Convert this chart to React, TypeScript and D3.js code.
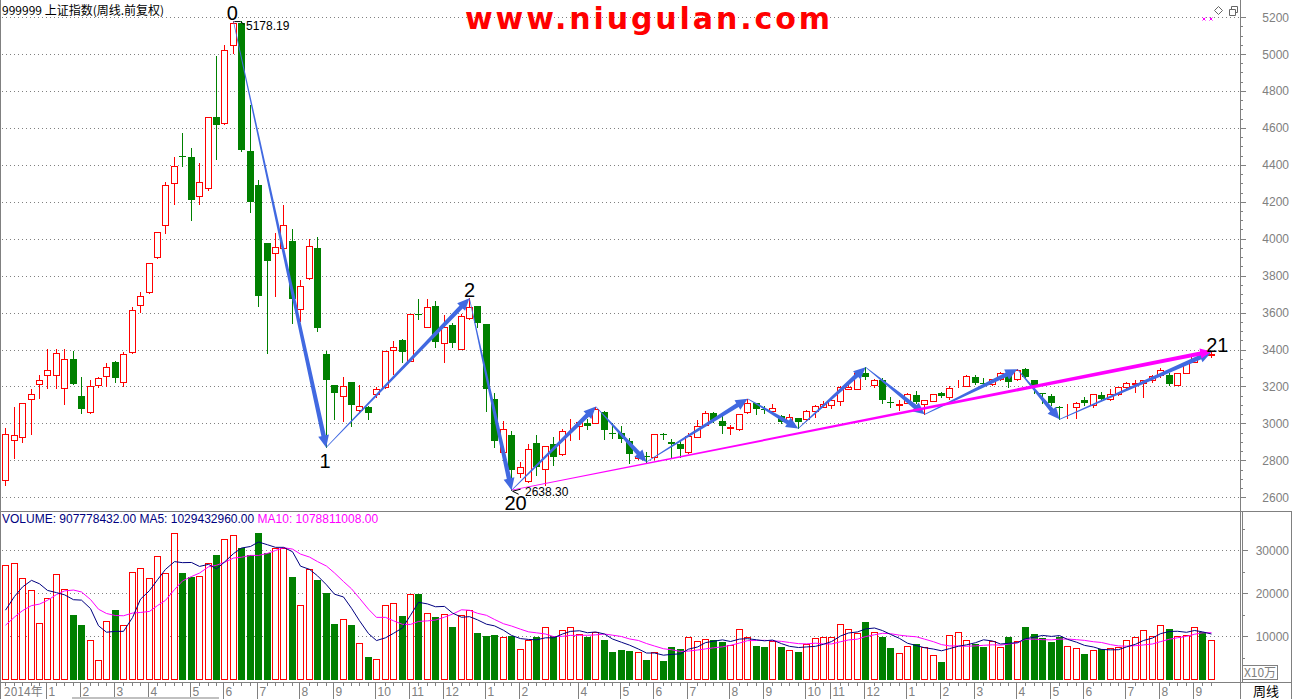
import React from "react";
import * as d3 from "d3";

// ---------- data (weekly, Dec 2014 – Sep 2017) ----------
const openP = [
  2691, 2908, 2924, 3130, 3213, 3260, 3260, 3190, 3347, 3148,
  3063, 3206, 3255, 3332, 3222, 3388, 3641, 3709, 3899, 4072,
  4300, 4448, 4440, 4231, 4276, 4657, 4628, 5047, 5170, 4473,
  4289, 3975, 3921, 3948, 3987, 3617, 3785, 3948, 3374, 3206,
  3150, 3224, 3073, 3091, 3159, 3195, 3397, 3452, 3338, 3592,
  3524, 3636, 3435, 3533, 3405, 3569, 3636, 3538, 3130, 2847,
  2937, 2730, 2686, 2894, 2755, 2888, 2832, 2979, 2986, 3004,
  3004, 3063, 2950, 2946, 2905, 2814, 2823, 2816, 2940, 2900,
  2887, 2843, 2925, 2991, 3054, 3013, 2975, 2971, 3060, 3112,
  3079, 3069, 3040, 3009, 3029, 3022, 3069, 3091, 3098, 3123,
  3188, 3188, 3275, 3206, 3235, 3118, 3100, 3112, 3152, 3103,
  3123, 3165, 3145, 3201, 3202, 3249, 3218, 3213, 3239, 3262,
  3239, 3293, 3235, 3163, 3148, 3091, 3088, 3087, 3127, 3100,
  3152, 3130, 3157, 3195, 3213, 3217, 3235, 3262, 3262, 3208,
  3275, 3334, 3378, 3368,
];
const highP = [
  2973, 3089, 3113, 3186, 3262, 3401, 3401, 3401, 3392, 3251,
  3235, 3250, 3325, 3339, 3388, 3628, 3709, 3868, 4036, 4309,
  4440, 4572, 4489, 4408, 4660, 4991, 5049, 5178.19, 5176, 4722,
  4316, 3976, 4029, 4181, 4051, 3776, 3998, 4007, 3392, 3210,
  3249, 3225, 3206, 3093, 3195, 3392, 3448, 3455, 3595, 3674,
  3674, 3664, 3585, 3542, 3592, 3677, 3638, 3540, 3166, 3015,
  2959, 2789, 2890, 2937, 2880, 2928, 2970, 3022, 3013, 3022,
  3091, 3065, 3004, 2985, 2919, 2847, 2847, 2943, 2946, 2915,
  2906, 2946, 3018, 3067, 3063, 3040, 2991, 3050, 3134, 3113,
  3092, 3103, 3047, 3051, 3030, 3070, 3100, 3123, 3132, 3200,
  3222, 3277, 3304, 3239, 3244, 3145, 3125, 3166, 3175, 3128,
  3160, 3168, 3202, 3235, 3262, 3262, 3244, 3239, 3280, 3280,
  3293, 3302, 3236, 3164, 3157, 3092, 3105, 3118, 3145, 3160,
  3170, 3184, 3199, 3222, 3235, 3236, 3262, 3298, 3271, 3275,
  3330, 3376, 3385, 3390,
];
const lowP = [
  2666, 2814, 2897, 2941, 3135, 3193, 3193, 3103, 3213, 3058,
  3054, 3199, 3201, 3226, 3201, 3383, 3605, 3705, 3897, 4033,
  4190, 4395, 4103, 4190, 4265, 4433, 4619, 5004, 4476, 4143,
  3634, 3379, 3691, 3946, 3542, 3554, 3780, 3500, 2870, 3026,
  3015, 2986, 3067, 3026, 3145, 3193, 3267, 3332, 3336, 3565,
  3522, 3415, 3334, 3415, 3403, 3568, 3520, 3065, 2874, 2845,
  2638.3, 2712, 2684, 2722, 2666, 2775, 2830, 2910, 2914, 2970,
  3003, 2914, 2919, 2900, 2784, 2807, 2791, 2805, 2914, 2816,
  2820, 2840, 2924, 2990, 3009, 2946, 2941, 2966, 3059, 3051,
  3055, 3064, 3004, 3000, 2973, 3020, 3036, 3087, 3085, 3100,
  3186, 3186, 3242, 3199, 3109, 3091, 3073, 3109, 3109, 3049,
  3120, 3145, 3134, 3198, 3200, 3213, 3208, 3208, 3235, 3199,
  3237, 3250, 3163, 3109, 3100, 3022, 3027, 3027, 3100, 3087,
  3127, 3126, 3154, 3190, 3172, 3145, 3226, 3253, 3208, 3208,
  3271, 3330, 3355, 3360,
];
const closeP = [
  2941, 2938, 3108, 3157, 3233, 3287, 3379, 3350, 3215, 3080,
  3204, 3248, 3308, 3248, 3374, 3616, 3691, 3866, 4034, 4289,
  4394, 4441, 4211, 4309, 4657, 4614, 5020, 5166, 4482, 4197,
  3691, 3881, 3957, 4072, 3673, 3744, 3962, 3515, 3237, 3166,
  3201, 3101, 3094, 3058, 3188, 3390, 3412, 3388, 3592, 3585,
  3628, 3443, 3524, 3435, 3581, 3628, 3545, 3188, 2903, 2971,
  2748, 2762, 2860, 2766, 2878, 2816, 2959, 2983, 3009, 2988,
  3076, 2964, 2946, 2915, 2832, 2825, 2821, 2941, 2935, 2886,
  2860, 2930, 2988, 3054, 3018, 2986, 2978, 3049, 3109, 3076,
  3075, 3083, 3009, 3033, 3008, 3067, 3094, 3105, 3127, 3199,
  3199, 3275, 3249, 3235, 3127, 3114, 3103, 3157, 3116, 3125,
  3157, 3146, 3193, 3203, 3255, 3220, 3212, 3239, 3271, 3226,
  3289, 3253, 3202, 3161, 3109, 3090, 3091, 3112, 3112, 3159,
  3130, 3159, 3195, 3217, 3220, 3235, 3257, 3289, 3213, 3271,
  3325, 3370, 3368, 3378,
];
// volume, unit: x10万
const volume = [
  26500, 27000, 23500, 20700, 13000, 18800, 24400, 21000, 15000, 12500,
  9000, 4400, 13500, 16000, 12500, 25000, 25800, 23500, 28600, 24600,
  34000, 24600, 23700, 24000, 27000, 28800, 32500, 33500, 30500, 28800,
  34000, 29300, 30500, 30500, 23700, 17200, 25600, 23000, 20000, 12800,
  14000, 12500, 8400, 5100, 4700, 17200, 17700, 14700, 19800, 19800,
  15300, 14400, 15100, 12100, 14900, 16000, 10700, 10000, 10200, 9800,
  10000, 7000, 9000, 9800, 12100, 10000, 11400, 12100, 10500, 9800,
  10900, 9000, 6300, 6700, 6500, 6300, 4400, 6300, 4200, 7400,
  7000, 9800, 8800, 9300, 9000, 8600, 7900, 11600, 9800, 7700,
  7400, 8800, 7400, 6700, 6300, 8100, 9500, 9800, 9800, 12800,
  11600, 10700, 13300, 10900, 9800, 7200, 6000, 7700, 8100, 7400,
  5600, 4000, 10200, 10900, 9000, 8100, 7400, 8800, 7400, 9800,
  8800, 12100, 10500, 9500, 8600, 9800, 7700, 7200, 5800, 6700,
  7000, 7200, 7400, 9000, 9800, 11400, 10000, 12500, 11600, 10000,
  10200, 12100, 10900, 9078,
];
// weeks before the first visible bar (only used for the moving averages)
const priorVolume = [8000, 8500, 9000, 9500, 10000, 11000, 12500, 13000, 17000];

const monthStartIdx = [5, 9, 13, 17, 22, 26, 30, 35, 39, 44, 48, 52, 57, 61, 68, 73, 77, 81, 86, 90, 95, 98, 102, 107, 111, 115, 120, 124, 128, 133, 137, 141];
const monthLabels = ["1", "2", "3", "4", "5", "6", "7", "8", "9", "10", "11", "12", "1", "2", "4", "5", "6", "7", "8", "9", "10", "11", "12", "1", "2", "3", "4", "5", "6", "7", "8", "9"];

const priceTicks = [2600, 2800, 3000, 3200, 3400, 3600, 3800, 4000, 4200, 4400, 4600, 4800, 5000, 5200];
const volTicks = [10000, 20000, 30000];

// wave points: [week index, price]
const waveIdx = [27, 38, 55, 60, 70, 76, 88, 94, 102, 109, 120, 125, 143];
const wavePrice = [5178.19, 2870, 3677, 2638.3, 3091, 2791, 3134, 2973, 3304, 3049, 3293, 3022, 3385];
const trendIdx = [60, 143];
const trendPrice = [2638.3, 3390];

const W = 1292;
const H = 699;
const FONT = "'Liberation Sans', Arial, sans-serif";
const GRAY = "#808080";
const RED = "#ff0000";
const GREEN = "#008000";
const BLUE = "#4169e1";
const PINK = "#ff00ff";

function taperArrow(x1: number, y1: number, x2: number, y2: number, w0: number, w1: number, hl: number, hw: number) {
  const dx = x2 - x1, dy = y2 - y1;
  const len = Math.hypot(dx, dy);
  const ux = dx / len, uy = dy / len;
  const nx = -uy, ny = ux;
  const bx = x2 - ux * hl, by = y2 - uy * hl;
  const p = d3.path();
  p.moveTo(x1 + nx * w0 / 2, y1 + ny * w0 / 2);
  p.lineTo(bx + nx * w1 / 2, by + ny * w1 / 2);
  p.lineTo(bx + nx * hw, by + ny * hw);
  p.lineTo(x2, y2);
  p.lineTo(bx - nx * hw, by - ny * hw);
  p.lineTo(bx - nx * w1 / 2, by - ny * w1 / 2);
  p.lineTo(x1 - nx * w0 / 2, y1 - ny * w0 / 2);
  p.closePath();
  return p.toString();
}

export default function App() {
  const n = closeP.length;
  const x = d3.scaleLinear().domain([0, 143]).range([5.3, 5.3 + 8.43 * 143]);
  const yP = d3.scaleLinear().domain([2600, 5000]).range([497.3, 54]);
  const yV = d3.scaleLinear().domain([0, 30000]).range([679, 550]);
  const cx = (i: number) => Math.round(x(i));

  const allVol = priorVolume.concat(volume);
  const off = priorVolume.length;
  const ma = (k: number) => volume.map((_, i) => d3.mean(allVol.slice(i + off - k + 1, i + off + 1)) as number);
  const ma5 = ma(5);
  const ma10 = ma(10);
  const lineV = d3.line<number>().x((_, i) => cx(i) + 0.5).y((d) => yV(d));

  const minorTicks = d3.range(2600, 5201, 50);
  const volMinor = d3.range(5000, 35001, 5000);

  const wavePts = waveIdx.map((d, i) => [x(d) + 0.5, yP(wavePrice[i])]);
  const tPts = trendIdx.map((d, i) => [x(d) + 0.5, yP(trendPrice[i])]);

  return (
    <div style={{ position: "absolute", left: 0, top: 0, width: W, height: H, background: "#fff" }}>
      <svg width={W} height={H} style={{ display: "block", fontFamily: FONT }}>
        <rect x={0} y={0} width={W} height={H} fill="#fff" />
        {/* grid */}
        <g shapeRendering="crispEdges">
          {priceTicks.map((t) => (
            <line key={"g" + t} x1={2} x2={1240} y1={Math.round(yP(t)) + 0.5} y2={Math.round(yP(t)) + 0.5} stroke={GRAY} strokeDasharray="1,3" />
          ))}
          {volTicks.map((t) => (
            <line key={"gv" + t} x1={2} x2={1240} y1={Math.round(yV(t)) + 0.5} y2={Math.round(yV(t)) + 0.5} stroke={GRAY} strokeDasharray="1,3" />
          ))}
        </g>

        {/* candles */}
        <g shapeRendering="crispEdges">
          {closeP.map((c, i) => {
            const o = openP[i];
            const up = c >= o;
            const X = cx(i);
            const top = Math.round(yP(Math.max(o, c)));
            const bot = Math.round(yP(Math.min(o, c)));
            const hi = Math.round(yP(highP[i]));
            const lo = Math.round(yP(lowP[i]));
            const col = up ? RED : GREEN;
            if (up) {
              return (
                <g key={"c" + i}>
                  <line x1={X + 0.5} x2={X + 0.5} y1={hi} y2={top} stroke={col} />
                  <line x1={X + 0.5} x2={X + 0.5} y1={bot} y2={lo + 1} stroke={col} />
                  <rect x={X - 2.5} y={top + 0.5} width={6} height={Math.max(bot - top, 0)} fill="#fff" stroke={col} />
                </g>
              );
            }
            return (
              <g key={"c" + i}>
                <line x1={X + 0.5} x2={X + 0.5} y1={hi} y2={lo + 1} stroke={col} />
                <rect x={X - 3} y={top} width={7} height={Math.max(bot - top, 1)} fill={col} />
              </g>
            );
          })}
        </g>

        {/* volume bars */}
        <g shapeRendering="crispEdges">
          {volume.map((v, i) => {
            const up = closeP[i] >= openP[i];
            const X = cx(i);
            const top = Math.round(yV(v));
            return up ? (
              <rect key={"v" + i} x={X - 2.5} y={top + 0.5} width={6} height={679 - top} fill="#fff" stroke={RED} />
            ) : (
              <rect key={"v" + i} x={X - 3} y={top} width={7} height={680 - top} fill={GREEN} />
            );
          })}
        </g>
        <path d={lineV(ma10) || ""} fill="none" stroke={PINK} strokeWidth={1} />
        <path d={lineV(ma5) || ""} fill="none" stroke="#000080" strokeWidth={1} />

        {/* wave arrows */}
        {wavePts.slice(1).map((p, i) => {
          const s = wavePts[i];
          return <path key={"w" + i} d={taperArrow(s[0], s[1], p[0], p[1], 0.6, 4.5, 12, 5.5)} fill={BLUE} />;
        })}
        <path d={taperArrow(tPts[0][0], tPts[0][1], tPts[1][0], tPts[1][1], 0.8, 4, 11, 5)} fill={PINK} />

        {/* wave labels */}
        <g fontSize={20} fill="#000" textAnchor="middle">
          <text x={wavePts[0][0] - 1} y={20}>0</text>
          <text x={wavePts[1][0] - 1} y={468}>1</text>
          <text x={wavePts[2][0]} y={297}>2</text>
          <text x={wavePts[3][0] + 4} y={510}>20</text>
          <text x={tPts[1][0] + 6} y={352}>21</text>
        </g>
        <g fontSize={12} fill="#000">
          <path d={`M${wavePts[0][0] + 1},${yP(5178.19) + 0.5} h6 l4,3`} stroke="#000" fill="none" />
          <text x={246} y={30}>5178.19</text>
          <path d={`M${tPts[0][0] + 9},${yP(2638.3) - 1} l-8,2 l6,3`} stroke="#000" fill="none" />
          <text x={525} y={496}>2638.30</text>
        </g>

        {/* title and watermark */}
        <text x={2} y={15} fontSize={12} fill="#000" fontFamily="'Noto Sans CJK SC', 'Liberation Sans', sans-serif">999999 上证指数(周线.前复权)</text>
        <text x={465} y={29} fontSize={30} fontWeight="bold" fill={RED} textLength={365} lengthAdjust="spacing" fontFamily="'DejaVu Sans', Arial, sans-serif">www.niugulan.com</text>

        {/* top-right icons */}
        <g stroke={PINK} strokeWidth={1}>
          <path d="M1202.5,17.5 l3,3 M1205.5,17.5 l-3,3 M1209.5,17.5 l3,3 M1212.5,17.5 l-3,3" />
        </g>
        <path d="M1218.5,6.5 l4,4 l-4,4 l-4,-4 z" fill="none" stroke="#666" />
        <path d="M1229.5,9.5 h6 v6 h-6 z M1231.5,9.5 v-3 h6 v6 h-2" fill="none" stroke="#666" />

        {/* volume header */}
        <text x={2} y={523} fontSize={12}>
          <tspan fill="#000080">VOLUME: 907778432.00  MA5: 1029432960.00  </tspan>
          <tspan fill={PINK}>MA10: 1078811008.00</tspan>
        </text>

        {/* frame lines */}
        <g shapeRendering="crispEdges" stroke={GRAY} fill="none">
          <line x1={0.5} x2={0.5} y1={0} y2={699} />
          <line x1={1240.5} x2={1240.5} y1={0} y2={699} />
          <line x1={0} x2={W} y1={511.5} y2={511.5} />
          <line x1={0} x2={W} y1={682.5} y2={682.5} />
          <line x1={1242.5} x2={1242.5} y1={512} y2={682} />
          <line x1={1291.5} x2={1291.5} y1={512} y2={699} />
        </g>

        {/* price axis */}
        <g shapeRendering="crispEdges" stroke={GRAY}>
          {minorTicks.map((t) => (
            <line key={"mt" + t} x1={1240} x2={t % 200 === 0 ? 1246 : 1243} y1={Math.round(yP(t)) + 0.5} y2={Math.round(yP(t)) + 0.5} />
          ))}
          {volMinor.filter((t) => yV(t) > 514).map((t) => (
            <line key={"vt" + t} x1={1242} x2={t % 10000 === 0 ? 1248 : 1245} y1={Math.round(yV(t)) + 0.5} y2={Math.round(yV(t)) + 0.5} />
          ))}
        </g>
        <g fontSize={12} fill={GRAY} textAnchor="end">
          {priceTicks.map((t) => (
            <text key={"pt" + t} x={1289} y={yP(t) + 4.5}>{t}</text>
          ))}
          {volTicks.map((t) => (
            <text key={"vl" + t} x={1289} y={yV(t) + 4.5}>{t}</text>
          ))}
        </g>
        <rect x={1242.5} y={665.5} width={35} height={14} fill="#fff" stroke={GRAY} shapeRendering="crispEdges" />
        <text x={1260} y={677} fontSize={12} fill={GRAY} textAnchor="middle" fontFamily="'Noto Sans CJK SC', sans-serif">X10万</text>

        {/* time axis */}
        <g shapeRendering="crispEdges" stroke={GRAY}>
          {d3.range(n).filter((i) => !monthStartIdx.includes(i)).map((i) => (
            <line key={"wt" + i} x1={cx(i) + 0.5} x2={cx(i) + 0.5} y1={683} y2={686} />
          ))}
          {monthStartIdx.map((i) => (
            <line key={"ms" + i} x1={cx(i) - 0.5} x2={cx(i) - 0.5} y1={683} y2={699} />
          ))}
          <line x1={72} x2={219} y1={698} y2={698} strokeWidth={2} stroke="#c0c0c0" />
        </g>
        <g fontSize={12} fill={GRAY}>
          <text x={4} y={696} fontFamily="'Noto Sans CJK SC', sans-serif">2014年</text>
          {monthStartIdx.map((i, k) => (
            <text key={"ml" + k} x={cx(i) + 1.5} y={696}>{monthLabels[k]}</text>
          ))}
        </g>
        <text x={1266} y={696} fontSize={13} fill="#000" textAnchor="middle" fontFamily="'Noto Sans CJK SC', sans-serif">周线</text>
      </svg>
    </div>
  );
}
